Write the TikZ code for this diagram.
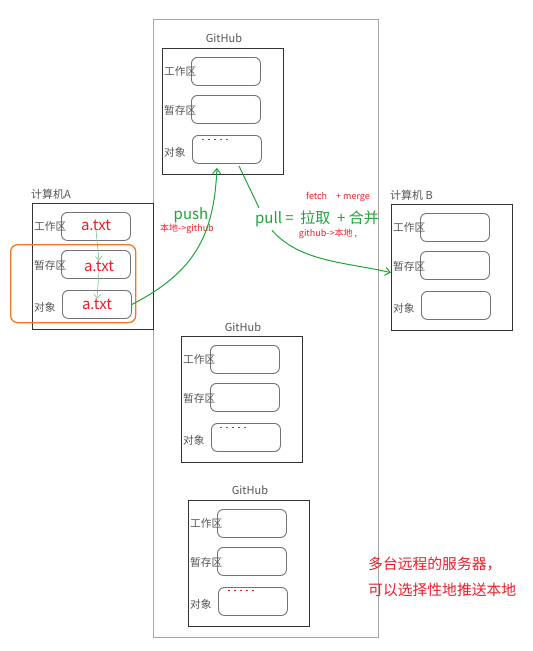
\documentclass[tikz,border=0pt]{standalone}
\usepackage{fontspec}
\setmainfont{Noto Sans CJK SC}
\usetikzlibrary{arrows.meta,calc}
\definecolor{ggreen}{HTML}{1FA33A}
\definecolor{rred}{HTML}{E8202A}
\definecolor{lgray}{HTML}{555555}
\definecolor{orng}{HTML}{F07820}
\tikzset{
  frame/.style={draw=black!80, line width=1.3pt, minimum width=121pt, minimum height=126pt, inner sep=0pt, anchor=north west},
  inbox/.style={draw=black!55, line width=0.9pt, rounded corners=6pt, minimum width=69pt, minimum height=28pt, inner sep=0pt, anchor=north west},
  lbl/.style={text=lgray, font=\fontsize{10.7}{12}\selectfont, anchor=west, inner sep=0pt},
  ttl/.style={text=lgray, font=\fontsize{11}{13}\selectfont, inner sep=0pt},
  atxt/.style={text=rred, font=\fontsize{15}{17}\selectfont, inner sep=0pt},
  small/.style={text=rred, font=\fontsize{9}{11}\selectfont, inner sep=0pt},
  garrow/.style={draw=ggreen, line width=1pt, -{Straight Barb[length=5pt,width=8pt]}},
  thinarrow/.style={draw=ggreen!70, line width=0.5pt, -{Straight Barb[length=4pt,width=7pt]}},
  reddash/.style={draw=rred, line width=0.8pt, dash pattern=on 2pt off 4pt},
}
\newcommand{\myrepo}[3]{%
  \begin{scope}[shift={(#2,#3)}]
    \node[frame] (#1) at (0,0) {};
    \node[inbox] (#1w) at (29,9) {};
    \node[inbox] (#1s) at (29,47) {};
    \node[inbox] (#1o) at (30,87) {};
    \node[lbl] (#1wl) at (2,23) {工作区};
    \node[lbl] (#1sl) at (2,62) {暂存区};
    \node[lbl] (#1ol) at (2,104) {对象};
  \end{scope}}
\begin{document}
\begin{tikzpicture}[x=1pt,y=-1pt]
\useasboundingbox[fill=white] (0,0) rectangle (533,651);
% server frame
\node[draw=black!35, line width=0.8pt, minimum width=225pt, minimum height=618pt, inner sep=0pt, anchor=north west] (cloud) at (153,19) {};
% repos
\myrepo{G1}{162}{48}
\myrepo{A}{32}{203}
\myrepo{B}{391}{204}
\myrepo{G2}{181}{336}
\myrepo{G3}{188}{500}
% titles
\node[ttl] (G1t) at (224,38) {GitHub};
\node[ttl] (G2t) at (243,327) {GitHub};
\node[ttl] (G3t) at (250,490) {GitHub};
\node[ttl, anchor=west] (At) at (31,194) {计算机A};
\node[ttl, anchor=west] (Bt) at (390,195) {计算机 B};
% small red marks on object boxes
\draw[reddash] (202,139) -- (230,139);
\draw[reddash] (220,427) -- (248,427);
\draw[reddash] (228,590) -- (254,590);
% a.txt
\node[atxt] (a1) at (96,225) {a.txt};
\node[atxt] (a2) at (99,266) {a.txt};
\node[atxt] (a3) at (97,304) {a.txt};
\draw[thinarrow] (a1.south) -- (a2.north);
\draw[thinarrow] (a2.south) -- (a3.north);
% orange highlight
\node[draw=orng, line width=1.3pt, rounded corners=7pt, minimum width=125pt, minimum height=78pt, inner sep=0pt, anchor=north west] (hl) at (10,244) {};
% push
\node[text=ggreen, font=\fontsize{15}{17}\selectfont, inner sep=0pt] (push) at (191,215) {push};
\node[small] (pushsub) at (187,229) {本地->github};
\draw[garrow] (Ao.east) .. controls (195,272) and (214,235) .. ($(G1o.south)+(-10,4)$);
% pull
\node[text=ggreen, font=\fontsize{15}{17}\selectfont, inner sep=0pt] (pull) at (317,219) {pull =\ \ 拉取\ \ +\ 合并};
\node[small] (fm) at (338,197) {fetch\quad + merge};
\node[small] (gl) at (328,234) {github->本地 ,};
\draw[draw=ggreen, line width=1pt] ($(G1o.south)+(12,2)$) -- ($(pull.north west)+(4,-3)$);
\draw[garrow] ($(pull.south west)+(17,3)$) .. controls (300,262) and (345,262) .. ($(B.west)+(0,5)$);
% note
\node[text=rred, font=\fontsize{14.8}{16}\selectfont, inner sep=0pt, anchor=west] (n1) at (368,564) {多台远程的服务器，};
\node[text=rred, font=\fontsize{14.8}{16}\selectfont, inner sep=0pt, anchor=west] (n2) at (368,590) {可以选择性地推送本地};
\end{tikzpicture}
\end{document}
